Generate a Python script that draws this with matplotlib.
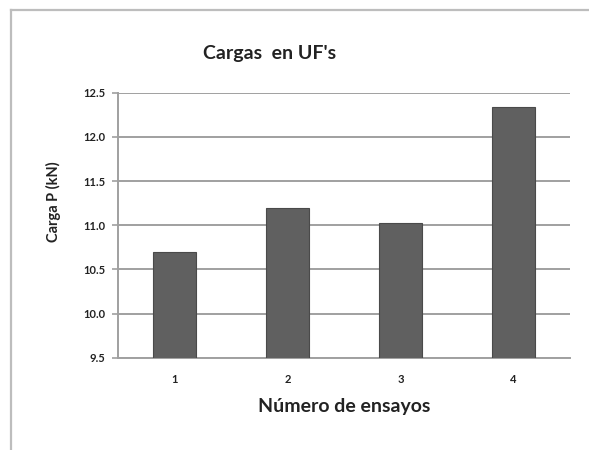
import matplotlib
matplotlib.use("Agg")
import matplotlib.pyplot as plt
from matplotlib.lines import Line2D

categories = ["1", "2", "3", "4"]
values = [10.70, 11.19, 11.03, 12.34]
yticks = [9.5, 10.0, 10.5, 11.0, 11.5, 12.0, 12.5]

fig = plt.figure(figsize=(5.89, 4.5), dpi=100)
ax = fig.add_axes([0.2003, 0.2051, 0.7674, 0.589])

x = list(range(len(categories)))
ax.bar(x, values, width=0.38, color="#606060", edgecolor="#4a4a4a", linewidth=0.8, zorder=3)

ax.set_ylim(9.5, 12.5)
ax.set_xlim(-0.5, 3.5)
ax.set_yticks(yticks)
ax.set_yticklabels([f"{v:.1f}" for v in yticks], fontsize=8, fontweight="bold", color="#222222", family="Lato")
ax.set_xticks(x)
ax.set_xticklabels(categories, fontsize=8, fontweight="bold", color="#222222", family="Lato")
ax.yaxis.grid(True, color="#a0a0a0", linewidth=1.4, zorder=0)
ax.set_axisbelow(True)
for s in ["top", "right"]:
    ax.spines[s].set_visible(False)
ax.spines["left"].set_color("#a0a0a0")
ax.spines["left"].set_linewidth(1.4)
ax.spines["bottom"].set_color("#a0a0a0")
ax.spines["bottom"].set_linewidth(1.4)
ax.tick_params(axis="y", length=4, width=1.2, color="#a0a0a0", pad=5)
ax.tick_params(axis="x", length=0, pad=12)

ax.set_xlabel("Número de ensayos", fontsize=14, fontweight="bold", family="Lato", color="#222222", labelpad=9)
fig.text(0.09, 0.551, "Carga P (kN)", rotation=90, ha="center", va="center",
         fontsize=10.5, fontweight="bold", family="Lato", color="#222222")
fig.text(0.458, 0.882, "Cargas  en UF's", ha="center", va="center",
         fontsize=14, fontweight="bold", family="Lato", color="#222222")

# outer frame
fig.add_artist(Line2D([11/589, 11/589], [0, 1 - 10/450], color="#bdbdbd", linewidth=1.6, transform=fig.transFigure))
fig.add_artist(Line2D([11/589, 1], [1 - 10/450, 1 - 10/450], color="#bdbdbd", linewidth=1.6, transform=fig.transFigure))

fig.savefig("out.png", dpi=100)
